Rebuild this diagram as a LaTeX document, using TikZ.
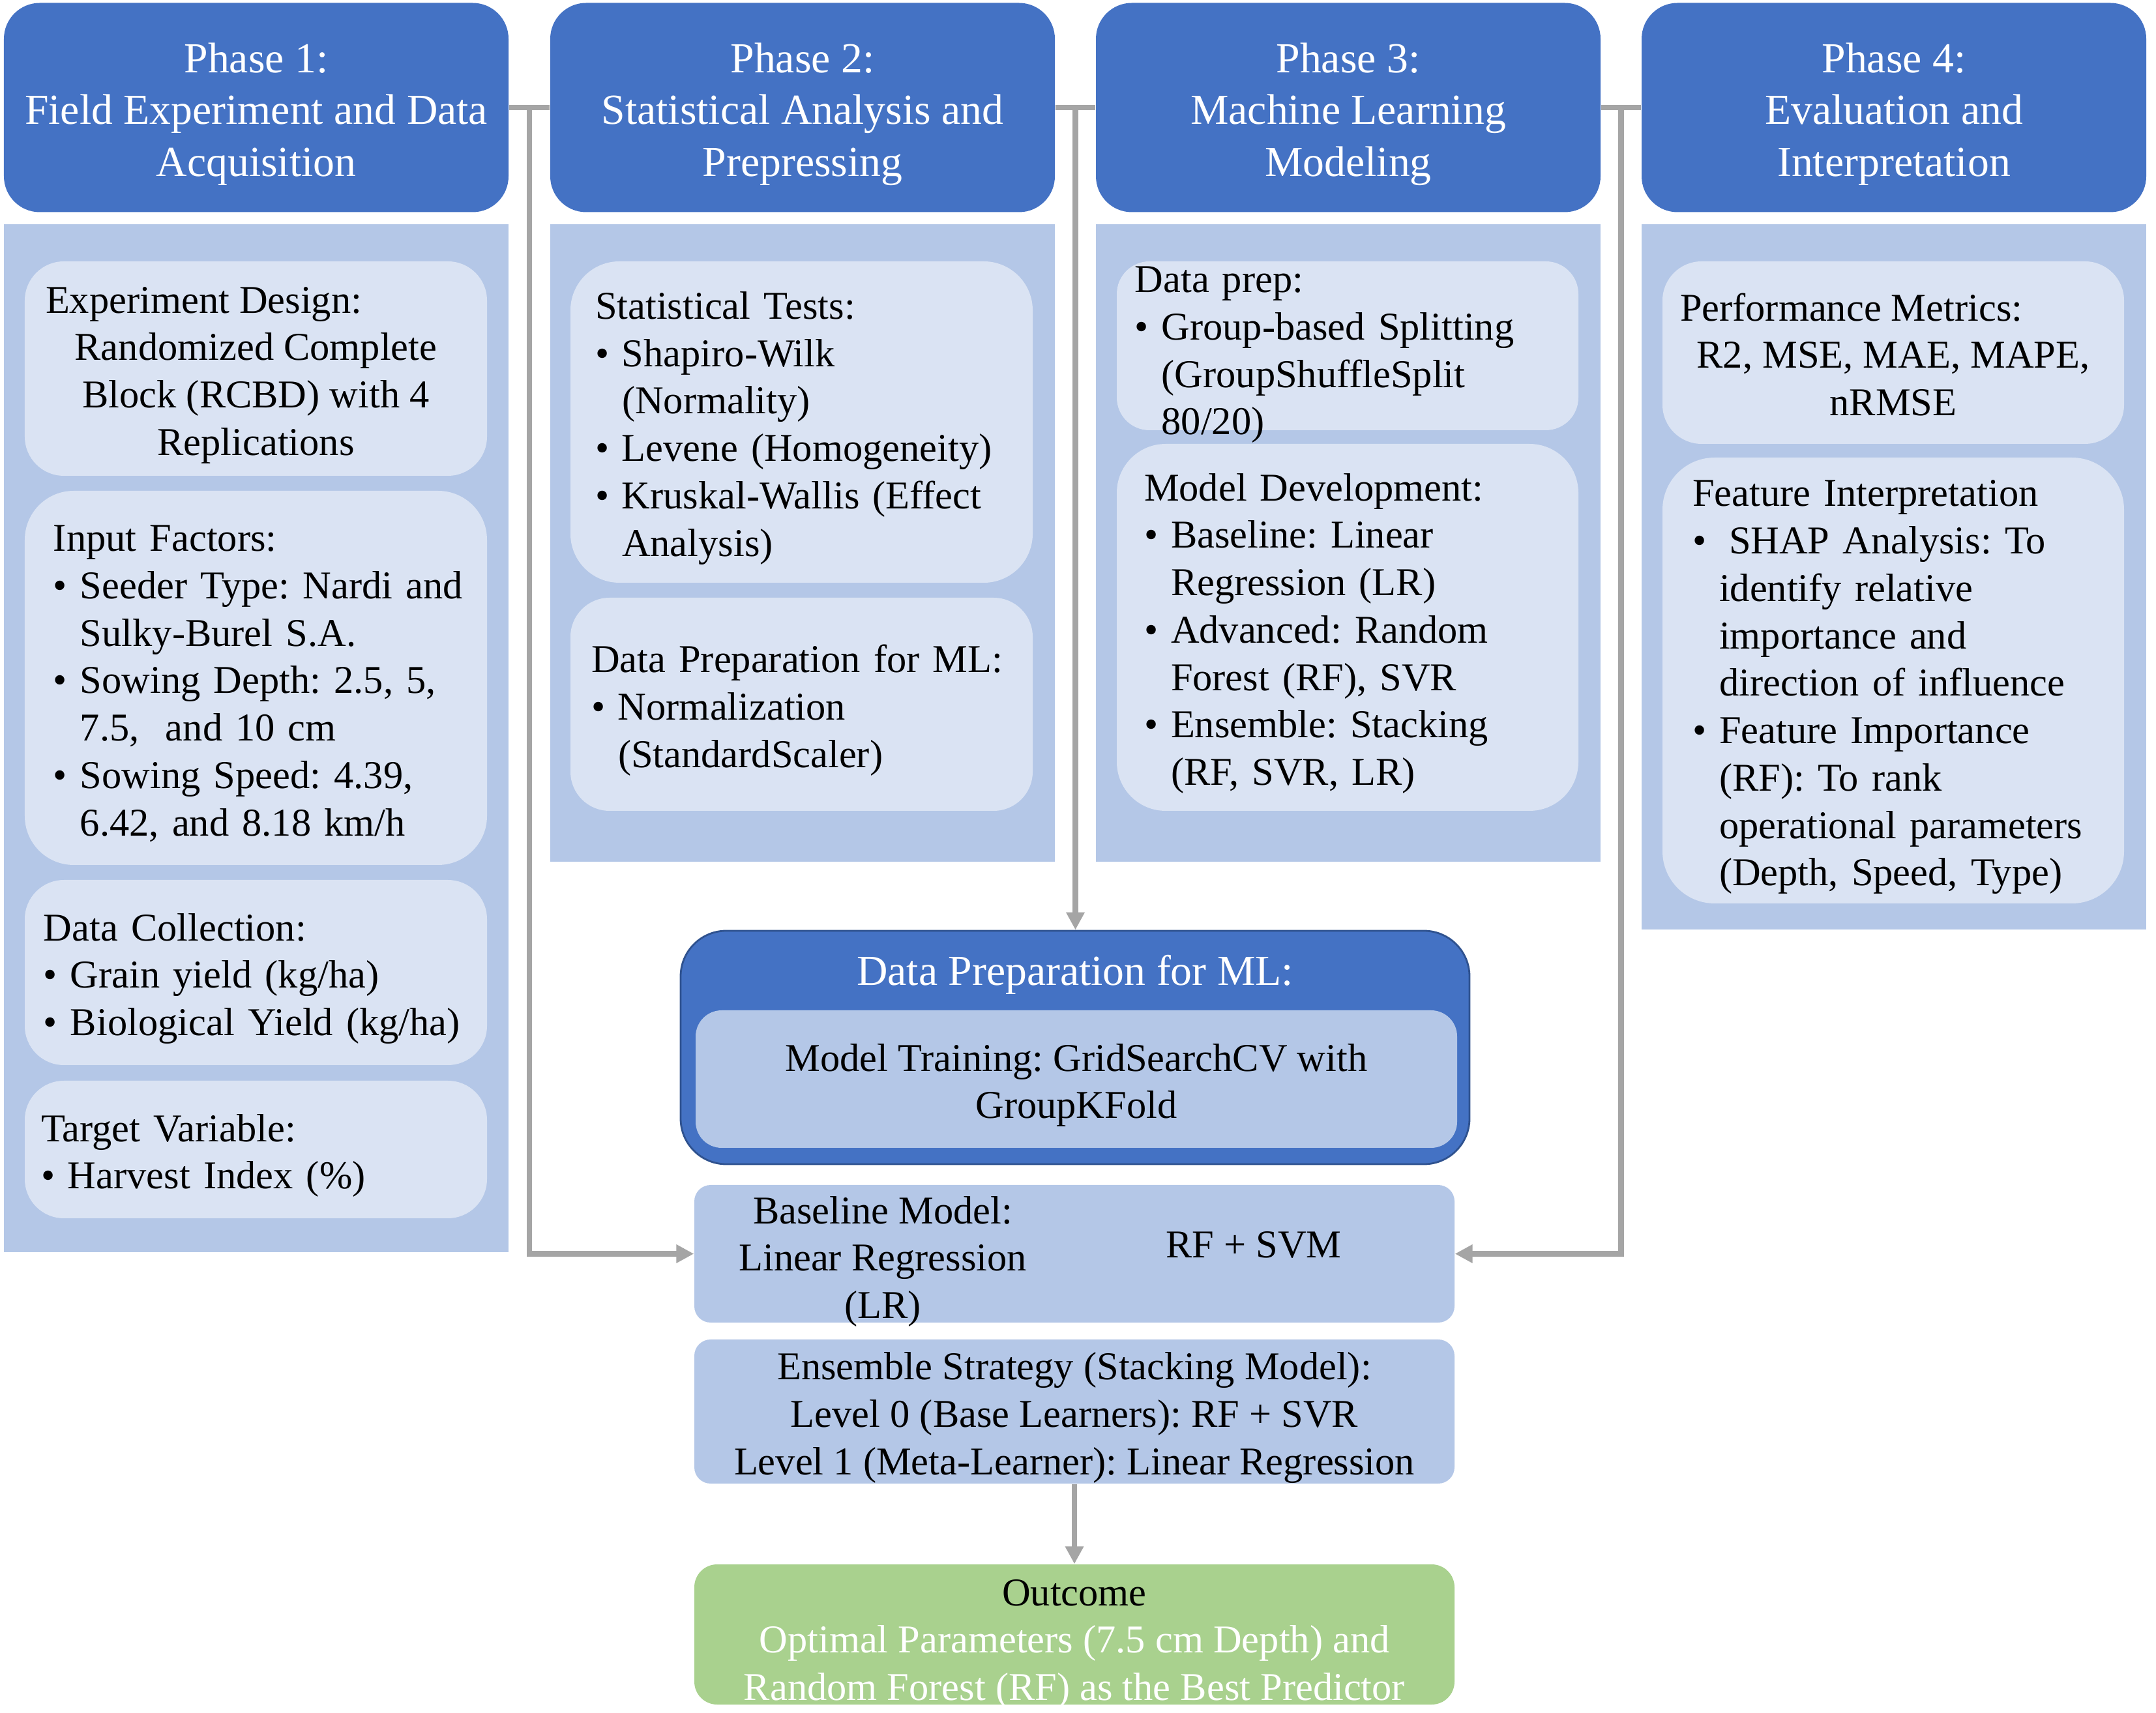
\documentclass[tikz,border=0pt]{standalone}
\usepackage{fontspec}
\setmainfont{Liberation Serif}
\usetikzlibrary{arrows.meta,positioning,calc}
\definecolor{phaseblue}{RGB}{68,114,196}
\definecolor{panelblue}{RGB}{180,199,231}
\definecolor{cardblue}{RGB}{218,227,243}
\definecolor{hubedge}{RGB}{47,82,143}
\definecolor{wiregray}{RGB}{165,165,165}
\definecolor{outgreen}{RGB}{169,209,142}
\newcommand{\bul}{\makebox[0.41cm][l]{\textbullet}}
\newcommand{\hng}{\hspace*{0.41cm}}
\tikzset{
  struts/.style={execute at begin node={\frenchspacing\rule{0pt}{1.02em}},
                 execute at end node={\rule[-0.23em]{0pt}{0.23em}}},
  phase/.style={fill=phaseblue, rounded corners=0.55cm, text=white, align=flush center,
                font=\fontsize{18.7}{22.5}\selectfont, minimum width=7.74cm, text width=7.4cm,
                minimum height=3.21cm, inner sep=0pt, struts},
  panel/.style={fill=panelblue, inner sep=0pt, minimum width=7.74cm},
  card/.style={fill=cardblue, rounded corners=0.6cm, align=left, inner ysep=0pt,
               font=\fontsize{17.2}{20.7}\selectfont, struts},
  flat/.style={fill=panelblue, rounded corners=0.25cm, inner sep=0pt, align=flush center,
               minimum width=11.66cm, minimum height=2.11cm, text width=11.2cm,
               font=\fontsize{17.2}{20.7}\selectfont, struts},
  txt/.style={font=\fontsize{17.2}{20.7}\selectfont, align=flush center, inner sep=0pt, struts},
  wire/.style={draw=wiregray, line width=2.3pt},
  flow/.style={wire, -{Triangle[length=0.27cm, width=0.27cm]}},
}
\begin{document}
\begin{tikzpicture}
  \useasboundingbox (0,0) rectangle (33.07,-26.28);
  % phase headers
  \node[phase] (p1head) at (3.93,-1.65)  {Phase 1:\\Field Experiment and Data\\Acquisition};
  \node[phase] (p2head) at (12.31,-1.65) {Phase 2:\\Statistical Analysis and\\Prepressing};
  \node[phase] (p3head) at (20.68,-1.65) {Phase 3:\\Machine Learning\\Modeling};
  \node[phase] (p4head) at (29.05,-1.65) {Phase 4:\\Evaluation and\\Interpretation};
  % panels
  \node[panel, minimum height=15.77cm] (p1panel) at (3.93,-11.325) {};
  \node[panel, minimum height=9.78cm]  (p2panel) at (12.31,-8.33) {};
  \node[panel, minimum height=9.78cm]  (p3panel) at (20.68,-8.33) {};
  \node[panel, minimum height=10.82cm] (p4panel) at (29.05,-8.85) {};
  % phase 1
  \node[card, align=flush center, inner xsep=0.32cm, text width=6.45cm, minimum height=3.29cm]
    (design) at (3.925,-5.655)
    {\makebox[6.45cm][l]{Experiment Design:}\\Randomized Complete\\Block (RCBD) with 4\\Replications};
  \node[card, inner xsep=0.44cm, text width=6.21cm, minimum height=5.74cm, rounded corners=0.75cm]
    (factors) at (3.925,-10.40)
    {Input Factors:\\
     \mbox{\bul Seeder Type: Nardi and}\\ \hng Sulky-Burel S.A.\\
     \bul Sowing Depth: 2.5, 5,\\ \hng 7.5,\ \ and 10 cm\\
     \bul Sowing Speed: 4.39,\\ \hng 6.42, and 8.18 km/h};
  \node[card, inner xsep=0.29cm, text width=6.51cm, minimum height=2.84cm]
    (collect) at (3.925,-14.92)
    {Data Collection:\\ \bul Grain yield (kg/ha)\\ \bul Biological Yield (kg/ha)};
  \node[card, inner xsep=0.25cm, text width=6.59cm, minimum height=2.11cm]
    (target) at (3.925,-17.635)
    {Target Variable:\\ \bul Harvest Index (\%)};
  % phase 2
  \node[card, inner xsep=0.38cm, text width=6.33cm, minimum height=4.93cm, rounded corners=0.75cm]
    (tests) at (12.295,-6.475)
    {Statistical Tests:\\ \bul Shapiro-Wilk\\ \hng (Normality)\\
     \bul Levene (Homogeneity)\\ \bul Kruskal-Wallis (Effect\\ \hng Analysis)};
  \node[card, inner xsep=0.32cm, text width=6.45cm, minimum height=3.27cm]
    (normal) at (12.295,-10.805)
    {Data Preparation for ML:\\ \bul Normalization\\ \hng (StandardScaler)};
  % phase 3
  \node[card, minimum width=7.08cm, minimum height=2.59cm, rounded corners=0.5cm]
    (prep) at (20.67,-5.305) {};
  \node[txt, align=left, anchor=west, text width=6.5cm] (preptext) at (17.40,-5.34)
    {Data prep:\\ \bul Group-based Splitting\\ \hng (GroupShuffleSplit\\ \hng 80/20)};
  \node[card, inner xsep=0.42cm, text width=6.24cm, minimum height=5.63cm, rounded corners=0.75cm]
    (model) at (20.67,-9.625)
    {Model Development:\\ \bul Baseline: Linear\\ \hng Regression (LR)\\
     \bul Advanced: Random\\ \hng Forest (RF), SVR\\
     \bul Ensemble: Stacking\\ \hng (RF, SVR, LR)};
  % phase 4
  \node[card, align=flush center, inner xsep=0.27cm, text width=6.54cm, minimum height=2.80cm]
    (metrics) at (29.04,-5.41)
    {\makebox[6.54cm][l]{Performance Metrics:}\\R2, MSE, MAE, MAPE,\\nRMSE};
  \node[card, inner xsep=0.46cm, text width=6.16cm, minimum height=6.84cm, rounded corners=0.8cm]
    (interp) at (29.04,-10.44)
    {Feature Interpretation\\
     \bul\hspace{0.15cm}SHAP Analysis: To\\ \hng identify relative\\
     \hng importance and\\ \hng direction of influence\\
     \bul Feature Importance\\ \hng (RF): To rank\\
     \hng operational parameters\\ \hng (Depth, Speed, Type)};
  % central column
  \node[fill=phaseblue, draw=hubedge, line width=0.8pt, rounded corners=0.7cm,
        minimum width=12.10cm, minimum height=3.58cm] (dataprep) at (16.49,-16.07) {};
  \node[txt, text=white, font=\fontsize{18.7}{22.5}\selectfont] (dptitle) at (16.49,-14.86)
    {Data Preparation for ML:};
  \node[flat, rounded corners=0.4cm, minimum width=11.68cm] (training) at (16.51,-16.555)
    {Model Training: GridSearchCV with\\GroupKFold};
  \node[flat] (baseline) at (16.48,-19.235) {};
  \node[txt, text width=5.4cm] (lrtext) at (13.54,-19.26) {Baseline Model:\\Linear Regression\\(LR)};
  \node[txt] (rftext) at (19.23,-19.06) {RF + SVM};
  \node[flat] (ensemble) at (16.48,-21.655)
    {Ensemble Strategy (Stacking Model):\\Level 0 (Base Learners): RF + SVR\\Level 1 (Meta-Learner): Linear Regression};
  \node[flat, fill=outgreen, rounded corners=0.35cm, minimum height=2.15cm] (outcome) at (16.48,-25.075) {};
  \node[txt, text width=11.2cm] (outtext) at (16.48,-25.12)
    {Outcome\\\textcolor{white}{Optimal Parameters (7.5 cm Depth) and}\\\textcolor{white}{Random Forest (RF) as the Best Predictor}};
  % connectors
  \coordinate (j12) at ($(p1head.east)!0.5!(p2head.west)$);
  \coordinate (j23) at ($(p2head.east)!0.5!(p3head.west)$);
  \coordinate (j34) at ($(p3head.east)!0.5!(p4head.west)$);
  \draw[wire] (p1head.east) -- (p2head.west);
  \draw[wire] (p2head.east) -- (p3head.west);
  \draw[wire] (p3head.east) -- (p4head.west);
  \draw[flow] (j12) |- (baseline.west);
  \draw[flow] (j23) -- (j23 |- dataprep.north);
  \draw[flow] (j34) |- (baseline.east);
  \draw[flow] (ensemble) -- (outcome);
\end{tikzpicture}
\end{document}
